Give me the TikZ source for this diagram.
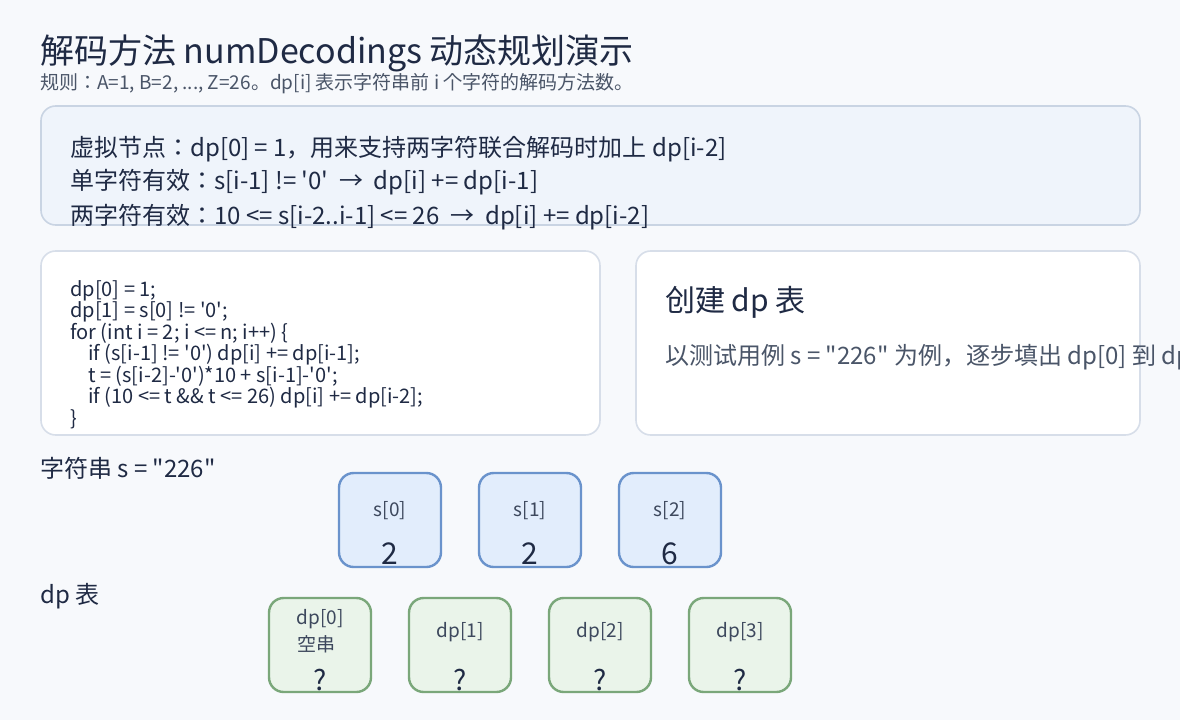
\documentclass[tikz,border=0pt]{standalone}
\usepackage{fontspec}
\newfontfamily\cjkf{Noto Sans CJK JP}
\definecolor{bgc}{HTML}{F7F9FC}
\definecolor{titlec}{HTML}{1F2A44}
\definecolor{subc}{HTML}{4A5568}
\definecolor{rulefill}{HTML}{EFF4FB}
\definecolor{ruleborder}{HTML}{C9D4E3}
\definecolor{cardborder}{HTML}{D7DEE9}
\definecolor{sfill}{HTML}{E2EDFC}
\definecolor{sborder}{HTML}{6A93CC}
\definecolor{dfill}{HTML}{EAF4EA}
\definecolor{dborder}{HTML}{7AA77A}
\newcommand{\fpx}[1]{\fontsize{\dimexpr#1pt*3/4\relax}{\dimexpr#1pt*9/10\relax}\selectfont}
\begin{document}
\begin{tikzpicture}[x=0.75pt,y=-0.75pt,
  txt/.style={anchor=base west,inner sep=0pt,text=titlec,font=\cjkf},
  ctr/.style={anchor=base,inner sep=0pt,text=titlec,font=\cjkf},
  card/.style={draw=cardborder,fill=white,line width=1.2pt,rounded corners=11pt},
  sbox/.style={draw=sborder,fill=sfill,line width=1.8pt,rounded corners=11pt},
  dbox/.style={draw=dborder,fill=dfill,line width=1.8pt,rounded corners=11pt}]
\fill[bgc] (0,0) rectangle (1180,720);
\useasboundingbox (0,0) rectangle (1180,720);
\clip (0,0) rectangle (1180,720);
% title
\node[txt] (title) at (40,64) {\fpx{34}解码方法 numDecodings 动态规划演示};
\node[txt,text=subc] (sub) at (40,90) {\fpx{19}规则：A=1, B=2, ..., Z=26。dp[i] 表示字符串前 i 个字符的解码方法数。};
% rules box
\draw[draw=ruleborder,fill=rulefill,line width=1.2pt,rounded corners=11pt] (41,106) rectangle (1140,225);
\node[txt] (r1) at (70,157) {\fpx{24}虚拟节点：dp[0] = 1，用来支持两字符联合解码时加上 dp[i-2]};
\node[txt] (r2) at (70,190) {\fpx{24}单字符有效：s[i-1] != '0' \ → \ dp[i] += dp[i-1]};
\node[txt] (r3) at (70,224) {\fpx{24}两字符有效：10 <= s[i-2..i-1] <= 26 \ → \ dp[i] += dp[i-2]};
% code box
\draw[card] (41,251) rectangle (600,435);
\node[txt] (c1) at (70,296) {\fpx{20}dp[0] = 1;};
\node[txt] (c2) at (70,317.5) {\fpx{20}dp[1] = s[0] != '0';};
\node[txt] (c3) at (70,339) {\fpx{20}for (int i = 2; i <= n; i++) \{};
\node[txt] (c4) at (88,360.5) {\fpx{20}if (s[i-1] != '0') dp[i] += dp[i-1];};
\node[txt] (c5) at (88,382) {\fpx{20}t = (s[i-2]-'0')*10 + s[i-1]-'0';};
\node[txt] (c6) at (88,403.5) {\fpx{20}if (10 <= t \&\& t <= 26) dp[i] += dp[i-2];};
\node[txt] (c7) at (70,425) {\fpx{20}\}};
% right card
\draw[card] (636,251) rectangle (1140,435);
\node[txt] (ct) at (665,311) {\fpx{30}创建 dp 表};
\node[txt,text=subc] (cb) at (665,364) {\fpx{24}以测试用例 s = "226" 为例，逐步填出 dp[0] 到 dp[3]。};
% string row
\node[txt] (slab) at (40,477) {\fpx{24}字符串 s = "226"};
\foreach \i/\x/\v in {0/339/2,1/479/2,2/619/6}{
  \draw[sbox] (\x,473) rectangle ++(102,94);
  \node[ctr,text=subc!70!titlec] (s\i) at (\x+51,516) {\fpx{19}s[\i]};
  \node[ctr] (sv\i) at (\x+51,564) {\fpx{30}\v};
}
% dp row
\node[txt] (dlab) at (40,603) {\fpx{24}dp 表};
\foreach \i/\x in {0/269,1/409,2/549,3/689}{
  \draw[dbox] (\x,598) rectangle ++(102,94);
  \node[ctr] (dq\i) at (\x+51,690) {\fpx{28}?};
}
\node[ctr,text=subc!70!titlec] (d0) at (320,624) {\fpx{19}dp[0]};
\node[ctr,text=subc!70!titlec] (d0b) at (316,651) {\fpx{19}空串};
\node[ctr,text=subc!70!titlec] (d1) at (460,637) {\fpx{19}dp[1]};
\node[ctr,text=subc!70!titlec] (d2) at (600,637) {\fpx{19}dp[2]};
\node[ctr,text=subc!70!titlec] (d3) at (740,637) {\fpx{19}dp[3]};
\end{tikzpicture}
\end{document}
